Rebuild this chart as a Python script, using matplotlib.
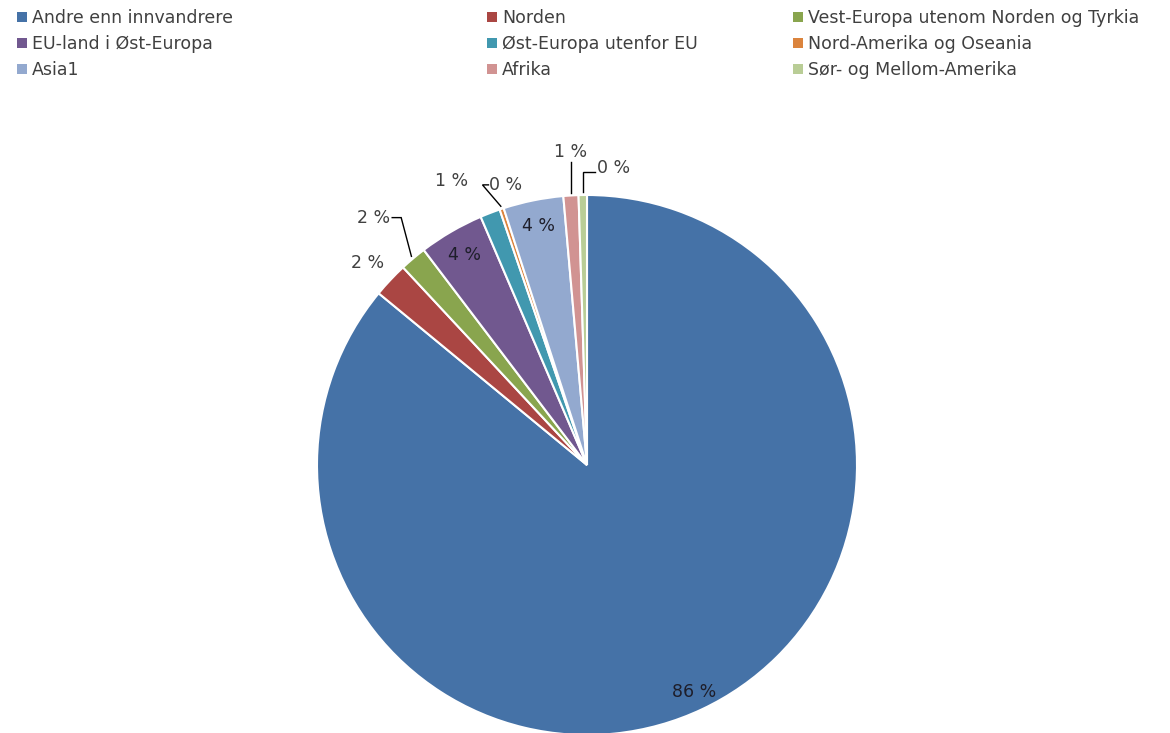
import numpy as np
import matplotlib
matplotlib.use("Agg")
import matplotlib.pyplot as plt

plt.rcParams['font.family'] = ['DejaVu Sans']

# Andel etter landbakgrunn (prosent)
kategorier = ["Andre enn innvandrere", "Norden", "Vest-Europa utenom Norden og Tyrkia",
              "EU-land i Øst-Europa", "Øst-Europa utenfor EU", "Nord-Amerika og Oseania",
              "Asia1", "Afrika", "Sør- og Mellom-Amerika"]
andel = [86.1, 2.1, 1.6, 3.9, 1.2, 0.25, 3.6, 0.9, 0.5]
farger = ["#4572A7", "#AA4643", "#89A54E", "#71588F", "#4198AF",
          "#DB843D", "#93A9CF", "#D19392", "#B9CD96"]

# plassering av etiketter: (radius, vinkelforskyvning, type ledelinje)
etikett_pos = [(0.93, 0, None), (1.105, 0.6, None), (1.21, 0.7, 'venstre'),
               (0.90, 0, None), (1.166, 4.5, None), (1.08, -2.3, 'hoyre'),
               (0.905, 0, None), (1.16, -0.4, 'under'), (1.105, -6, 'ned')]

W, H = 1170, 733
R = 270
cx, cy = 587, H - 465
FS = 12.5
tekstfarge = "#404040"

fig = plt.figure(figsize=(W / 100, H / 100), dpi=100)
ax = fig.add_axes([0, 0, 1, 1])
wedges, _ = ax.pie(andel, colors=farger, startangle=90, counterclock=False,
                   wedgeprops=dict(edgecolor="white", linewidth=1.5))
ax.set_xlim(-cx / R, (W - cx) / R)
ax.set_ylim(-cy / R, (H - cy) / R)
ax.set_aspect('auto')
ax.axis('off')

etiketter = []
for w, v, (r, skift, led) in zip(wedges, andel, etikett_pos):
    mid = (w.theta1 + w.theta2) / 2
    th = np.deg2rad(mid + skift)
    farge = "#1e1e2a" if r < 1 else tekstfarge
    t = ax.text(r * np.cos(th), r * np.sin(th), f"{round(v):d} %", ha='center',
                va='center', fontsize=FS, color=farge)
    etiketter.append((t, mid, led))

# ledelinjer
fig.canvas.draw()
rend = fig.canvas.get_renderer()
til_data = ax.transData.inverted()
px = 1 / R
for t, mid, led in etiketter:
    if led is None:
        continue
    bb = t.get_window_extent(rend)
    (x0, y0), (x1, y1) = til_data.transform([(bb.x0, bb.y0), (bb.x1, bb.y1)])
    ym = (y0 + y1) / 2
    m = np.deg2rad(mid)
    ex, ey = 1.01 * np.cos(m), 1.01 * np.sin(m)
    if led == 'venstre':
        xs, ys = [x1 + 2 * px, x1 + 11 * px, ex], [ym, ym, ey]
    elif led == 'hoyre':
        xs, ys = [x0 - 1 * px, x0 - 7 * px, ex], [ym, ym, ey]
    elif led == 'under':
        xs, ys = [ex, ex], [y0 - 1 * px, ey]
    else:
        xs, ys = [x0 - 2 * px, ex, ex], [ym - 4 * px, ym - 4 * px, ey]
    ax.plot(xs, ys, color='black', lw=1.0, solid_joinstyle='miter')

# forklaring i tre kolonner, fylt radvis
kol_x = [12 / W, 482 / W, 788 / W]
for k in range(3):
    idx = [k, k + 3, k + 6]
    leg = fig.legend([wedges[i] for i in idx], [kategorier[i] for i in idx],
                     loc='upper left', bbox_to_anchor=(kol_x[k] - 0.006, 1 + 3 / H),
                     frameon=False, fontsize=FS, handlelength=0.55, handleheight=0.55,
                     handletextpad=0.3, labelspacing=0.46, borderpad=0.2)
    for tx in leg.get_texts():
        tx.set_color(tekstfarge)
    for h in leg.legend_handles:
        h.set_edgecolor('none')

fig.savefig("out.png", dpi=100)
